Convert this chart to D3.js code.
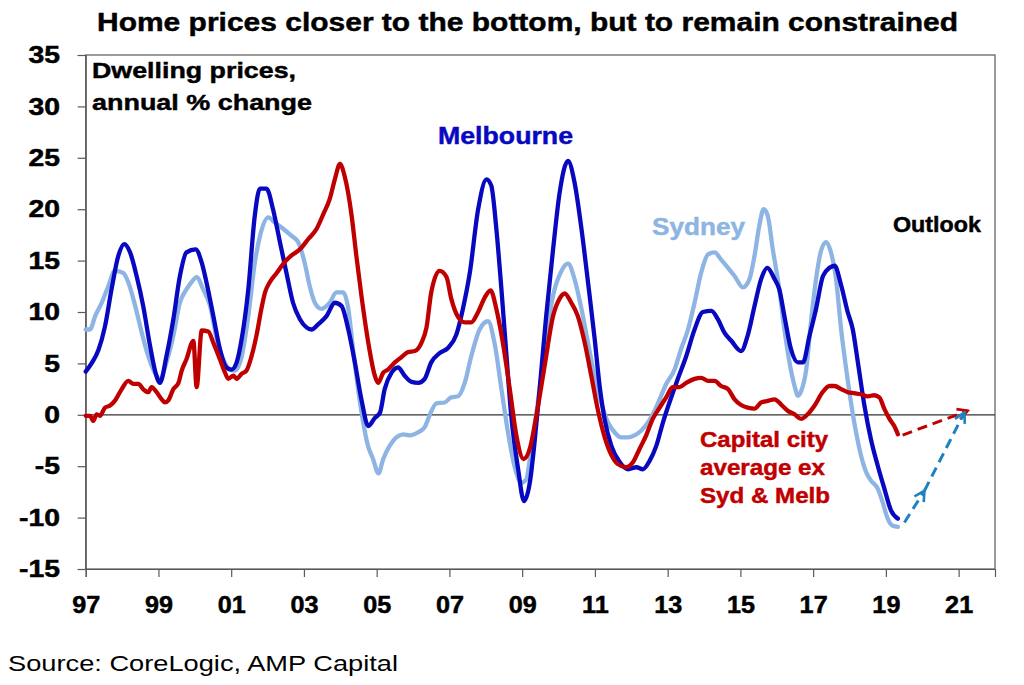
<!DOCTYPE html>
<html><head><meta charset="utf-8">
<script src="https://cdn.jsdelivr.net/npm/d3@7/dist/d3.min.js"></script>
<style>
html,body{margin:0;padding:0;background:#fff;}
svg{display:block;font-family:"Liberation Sans",Arial,sans-serif;}
</style></head>
<body><svg id="c" width="1024" height="685"></svg>
<script>
// ---- data (year, annual % change) ----
const sydney = [[1997.0,8.3],[1997.12,8.3],[1997.26,9.6],[1997.44,10.9],[1997.62,12.5],[1997.8,14.0],[1998.03,13.8],[1998.17,12.9],[1998.36,10.6],[1998.54,8.0],[1998.72,5.7],[1998.9,4.1],[1999.04,3.5],[1999.22,5.1],[1999.41,7.7],[1999.59,10.9],[1999.77,12.2],[1999.91,12.9],[2000.05,13.4],[2000.23,12.2],[2000.42,10.6],[2000.6,7.4],[2000.78,5.4],[2000.97,4.4],[2001.1,4.3],[2001.29,5.7],[2001.47,9.6],[2001.65,14.8],[2001.8,17.5],[2002.02,19.2],[2002.2,18.7],[2002.43,18.1],[2002.66,17.4],[2002.84,16.8],[2003.02,14.8],[2003.16,12.5],[2003.3,10.9],[2003.48,10.3],[2003.71,10.9],[2003.89,11.9],[2004.08,11.9],[2004.22,10.3],[2004.35,6.4],[2004.49,2.5],[2004.63,-0.75],[2004.76,-3.0],[2004.9,-4.3],[2005.05,-5.7],[2005.18,-4.3],[2005.36,-3.0],[2005.54,-2.2],[2005.73,-1.9],[2005.91,-2.0],[2006.14,-1.7],[2006.32,-1.2],[2006.46,0.0],[2006.64,1.1],[2006.87,1.2],[2007.05,1.7],[2007.24,1.8],[2007.42,3.1],[2007.6,5.7],[2007.83,8.3],[2008.06,9.1],[2008.24,7.0],[2008.43,2.5],[2008.61,-1.7],[2008.79,-5.0],[2008.98,-6.6],[2009.11,-6.3],[2009.25,-3.3],[2009.43,1.2],[2009.62,6.4],[2009.85,11.6],[2010.08,14.0],[2010.26,14.7],[2010.44,13.2],[2010.63,10.3],[2010.81,7.0],[2010.99,3.8],[2011.17,1.2],[2011.36,-0.75],[2011.54,-1.7],[2011.72,-2.2],[2011.91,-2.2],[2012.09,-2.0],[2012.27,-1.55],[2012.46,-0.75],[2012.64,0.4],[2012.82,1.85],[2012.96,3.0],[2013.19,4.4],[2013.37,6.4],[2013.56,8.3],[2013.74,10.9],[2013.92,13.8],[2014.11,15.6],[2014.29,15.8],[2014.47,15.1],[2014.66,14.3],[2014.84,13.5],[2015.07,12.4],[2015.25,13.2],[2015.39,15.5],[2015.52,18.4],[2015.64,20.0],[2015.75,19.4],[2015.89,16.1],[2016.07,12.2],[2016.21,8.3],[2016.35,5.1],[2016.49,2.8],[2016.58,1.85],[2016.67,2.3],[2016.81,4.4],[2016.94,9.0],[2017.08,13.2],[2017.22,16.0],[2017.36,16.8],[2017.49,15.8],[2017.63,13.2],[2017.77,8.3],[2017.91,4.4],[2018.04,1.2],[2018.18,-1.7],[2018.32,-4.0],[2018.46,-5.6],[2018.59,-6.4],[2018.78,-7.2],[2018.91,-8.5],[2019.05,-10.1],[2019.19,-10.8],[2019.33,-10.9]];

const melbourne = [[1997.0,4.2],[1997.16,5.0],[1997.35,6.3],[1997.53,8.6],[1997.71,12.2],[1997.9,15.5],[1998.06,16.6],[1998.22,15.8],[1998.4,13.5],[1998.58,10.6],[1998.77,6.7],[1998.92,4.1],[1999.04,3.1],[1999.22,5.7],[1999.41,9.3],[1999.59,13.5],[1999.77,15.8],[2000.02,16.1],[2000.19,14.8],[2000.32,12.9],[2000.51,9.6],[2000.69,6.4],[2000.87,4.6],[2001.01,4.4],[2001.15,5.1],[2001.29,7.4],[2001.47,12.2],[2001.65,19.4],[2001.79,22.0],[2001.97,22.0],[2002.15,20.0],[2002.34,16.8],[2002.52,13.8],[2002.7,10.9],[2002.89,9.3],[2003.07,8.5],[2003.21,8.3],[2003.39,8.8],[2003.62,9.6],[2003.85,10.9],[2004.03,10.6],[2004.22,8.3],[2004.4,5.1],[2004.58,1.5],[2004.77,-1.1],[2004.95,-0.3],[2005.09,0.2],[2005.22,2.5],[2005.41,4.1],[2005.59,4.6],[2005.77,3.8],[2005.96,3.2],[2006.14,3.1],[2006.32,3.5],[2006.5,5.1],[2006.73,6.0],[2006.96,6.5],[2007.19,7.8],[2007.37,10.3],[2007.56,13.8],[2007.79,20.0],[2008.02,22.9],[2008.15,22.3],[2008.29,18.1],[2008.43,12.2],[2008.57,5.7],[2008.7,-0.1],[2008.89,-5.3],[2009.05,-8.4],[2009.21,-6.6],[2009.34,-2.7],[2009.48,2.5],[2009.66,9.6],[2009.85,16.1],[2010.03,21.6],[2010.26,24.7],[2010.44,22.6],[2010.63,18.1],[2010.81,12.9],[2010.99,7.5],[2011.13,2.8],[2011.27,-0.5],[2011.45,-3.0],[2011.68,-4.6],[2011.91,-5.3],[2012.14,-5.1],[2012.32,-5.3],[2012.5,-4.5],[2012.69,-3.0],[2012.87,-0.75],[2013.05,1.2],[2013.28,3.5],[2013.51,5.7],[2013.74,8.3],[2013.97,10.0],[2014.2,10.1],[2014.38,9.3],[2014.56,8.0],[2014.75,7.2],[2015.02,6.2],[2015.2,7.7],[2015.39,10.6],[2015.57,13.2],[2015.74,14.3],[2015.94,13.2],[2016.07,12.2],[2016.21,9.6],[2016.39,6.4],[2016.58,5.1],[2016.72,5.1],[2016.9,7.7],[2017.08,10.3],[2017.27,13.5],[2017.45,14.3],[2017.59,14.5],[2017.77,12.6],[2017.95,10.0],[2018.09,8.3],[2018.23,5.1],[2018.41,0.9],[2018.59,-2.4],[2018.78,-5.0],[2018.96,-7.2],[2019.14,-9.3],[2019.33,-10.1]];

const capitalExSydMelb = [[1997.0,-0.1],[1997.12,-0.1],[1997.21,-0.6],[1997.3,0.05],[1997.39,-0.1],[1997.53,0.7],[1997.67,0.9],[1997.81,1.4],[1997.99,2.5],[1998.17,3.3],[1998.31,3.0],[1998.45,3.0],[1998.58,2.5],[1998.72,2.2],[1998.81,2.7],[1998.95,2.2],[1999.09,1.5],[1999.18,1.2],[1999.27,1.4],[1999.41,2.5],[1999.55,3.1],[1999.64,4.3],[1999.77,5.4],[1999.96,7.2],[2000.05,2.7],[2000.19,8.2],[2000.37,8.1],[2000.51,7.0],[2000.69,5.4],[2000.83,4.1],[2000.92,3.5],[2001.06,3.8],[2001.15,3.5],[2001.29,4.0],[2001.42,4.3],[2001.56,5.7],[2001.7,7.8],[2001.83,10.3],[2001.93,11.9],[2002.06,12.9],[2002.25,13.8],[2002.48,14.9],[2002.66,15.5],[2002.89,16.1],[2003.12,17.1],[2003.35,18.1],[2003.53,19.5],[2003.71,21.0],[2003.85,22.9],[2003.99,24.4],[2004.12,23.2],[2004.31,19.4],[2004.44,15.5],[2004.58,11.6],[2004.77,7.0],[2004.95,3.8],[2005.04,3.1],[2005.18,4.1],[2005.31,4.4],[2005.5,5.1],[2005.68,5.6],[2005.86,6.1],[2006.05,6.2],[2006.23,7.0],[2006.37,8.5],[2006.5,11.9],[2006.73,14.0],[2006.92,13.4],[2007.05,11.3],[2007.24,9.5],[2007.42,9.0],[2007.6,9.0],[2007.79,10.0],[2007.97,11.4],[2008.13,12.1],[2008.29,10.3],[2008.47,7.0],[2008.66,2.5],[2008.84,-2.0],[2009.04,-4.3],[2009.21,-3.3],[2009.39,-0.1],[2009.62,4.8],[2009.85,9.6],[2010.03,11.3],[2010.17,11.8],[2010.35,10.9],[2010.53,9.6],[2010.72,7.0],[2010.9,3.8],[2011.08,0.5],[2011.27,-2.2],[2011.45,-3.9],[2011.63,-4.8],[2011.86,-5.1],[2012.05,-4.6],[2012.23,-3.3],[2012.41,-2.0],[2012.59,-0.4],[2012.78,0.7],[2012.96,1.7],[2013.14,2.7],[2013.33,2.7],[2013.51,3.1],[2013.74,3.5],[2013.92,3.6],[2014.11,3.3],[2014.29,3.3],[2014.47,2.8],[2014.66,2.5],[2014.84,1.5],[2015.02,0.95],[2015.2,0.7],[2015.39,0.6],[2015.57,1.2],[2015.75,1.35],[2015.94,1.5],[2016.12,1.0],[2016.3,0.4],[2016.49,0.05],[2016.67,-0.4],[2016.85,0.05],[2017.04,0.9],[2017.26,2.2],[2017.45,2.8],[2017.59,2.8],[2017.77,2.5],[2017.95,2.2],[2018.13,2.1],[2018.32,2.0],[2018.5,1.8],[2018.68,1.9],[2018.82,1.7],[2018.96,0.55],[2019.1,-0.4],[2019.23,-1.1],[2019.33,-1.9]];

const outlookCapital = [[2019.46,-1.97],[2021.25,0.39]];
const outlookSydMelb = [[2019.51,-10.47],[2020.06,-7.39],[2021.16,0.23]];

const xTickYears = [1997,1999,2001,2003,2005,2007,2009,2011,2013,2015,2017,2019,2021];
const xTickLabels = ["97","99","01","03","05","07","09","11","13","15","17","19","21"];
const yTickValues = [-15,-10,-5,0,5,10,15,20,25,30,35];

// ---- layout ----
const svg = d3.select("#c");
const L = 85.7, R = 995, T = 55, B = 569;
const x = d3.scaleLinear().domain([1997, 2022]).range([L, R]);
const y = d3.scaleLinear().domain([-15, 35]).range([B, T]);
const C = {syd:"#8DB4E2", mel:"#0808C0", cap:"#C00000", out:"#1F82C0", axis:"#595959"};

function stretch(sel, target){ // target: width in px or factor (<3)
  sel.each(function(){
    const w = this.getComputedTextLength();
    const t = target < 3 ? w*target : target;
    this.setAttribute("textLength", t);
    this.setAttribute("lengthAdjust","spacingAndGlyphs");
  });
}

// frame
svg.append("rect").attr("x",L).attr("y",T).attr("width",R-L).attr("height",B-T)
  .attr("fill","none").attr("stroke",C.axis).attr("stroke-width",1.2);

// zero line
svg.append("line").attr("x1",L).attr("x2",R).attr("y1",y(0)).attr("y2",y(0))
  .attr("stroke","#333").attr("stroke-width",1.2);

// axes
const xAxis = svg.append("g").attr("transform",`translate(0,${B})`)
  .call(d3.axisBottom(x).tickValues(xTickYears).tickSize(8).tickPadding(19)
    .tickFormat((d,i)=>xTickLabels[i]));
const yAxis = svg.append("g").attr("transform",`translate(${L},0)`)
  .call(d3.axisLeft(y).tickValues(yTickValues).tickSize(8).tickPadding(17.7)
    .tickFormat(d=>String(d)));
[xAxis,yAxis].forEach(g=>{
  g.select(".domain").attr("stroke",C.axis).attr("stroke-width",1.2);
  g.selectAll(".tick line").attr("stroke",C.axis).attr("stroke-width",1.2);
  g.selectAll(".tick text").attr("font-family","'Liberation Sans',Arial,sans-serif")
    .attr("font-size",24).attr("font-weight","bold").attr("fill","#000")
    .attr("stroke","#000").attr("stroke-width",0.5);
});
stretch(xAxis.selectAll(".tick text"), 1.05);
stretch(yAxis.selectAll(".tick text"), 1.18);

// lines
const line = d3.line().x(d=>x(d[0])).y(d=>y(d[1])).curve(d3.curveMonotoneX);
const series = [[sydney,C.syd],[melbourne,C.mel],[capitalExSydMelb,C.cap]];
series.forEach(([data,col])=>{
  svg.append("path").datum(data).attr("d",line).attr("fill","none")
    .attr("stroke",col).attr("stroke-width",4.3).attr("stroke-linejoin","round").attr("stroke-linecap","round");
});

// arrow markers
const defs = svg.append("defs");
function marker(id,col){
  defs.append("marker").attr("id",id).attr("viewBox","0 0 14 14").attr("refX",12).attr("refY",7)
    .attr("markerWidth",14).attr("markerHeight",14).attr("markerUnits","userSpaceOnUse").attr("orient","auto")
    .append("path").attr("d","M2,1.5 L12,7 L2,12.5").attr("fill","none").attr("stroke",col).attr("stroke-width",2.6);
}
marker("arR",C.cap); marker("arB",C.out);
const lin = d3.line().x(d=>x(d[0])).y(d=>y(d[1]));
svg.append("path").datum(outlookCapital).attr("d",lin).attr("fill","none")
  .attr("stroke",C.cap).attr("stroke-width",3).attr("stroke-dasharray","10,6").attr("marker-end","url(#arR)");
for(let i=0;i<outlookSydMelb.length-1;i++){
  svg.append("path").datum([outlookSydMelb[i],outlookSydMelb[i+1]]).attr("d",lin).attr("fill","none")
    .attr("stroke",C.out).attr("stroke-width",3).attr("stroke-dasharray","10,6").attr("marker-end","url(#arB)");
}

// texts
function txt(s,xp,yp,opt){
  const t = svg.append("text").attr("x",xp).attr("y",yp).text(s)
    .attr("font-size",opt.size).attr("font-weight",opt.bold?"bold":"normal")
    .attr("fill",opt.fill||"#000").attr("text-anchor",opt.anchor||"start");
  if(opt.bold) t.attr("stroke",opt.fill||"#000").attr("stroke-width",0.45);
  if(opt.w) stretch(t,opt.w);
  return t;
}
txt("Home prices closer to the bottom, but to remain constrained",97,31,{size:26,bold:true,w:861});
txt("Dwelling prices,",92,78,{size:22.5,bold:true,w:204});
txt("annual % change",92,110,{size:22.5,bold:true,w:220});
txt("Melbourne",438,144,{size:24,bold:true,fill:C.mel,w:135});
txt("Sydney",652,235,{size:24,bold:true,fill:C.syd,w:93});
txt("Outlook",893,232,{size:21.5,bold:true,w:88});
txt("Capital city",700,447,{size:21.5,bold:true,fill:C.cap,w:128});
txt("average ex",700,475,{size:21.5,bold:true,fill:C.cap,w:125});
txt("Syd & Melb",700,503,{size:21.5,bold:true,fill:C.cap,w:130});
txt("Source: CoreLogic, AMP Capital",8,671,{size:22.5,w:390});
</script></body></html>
